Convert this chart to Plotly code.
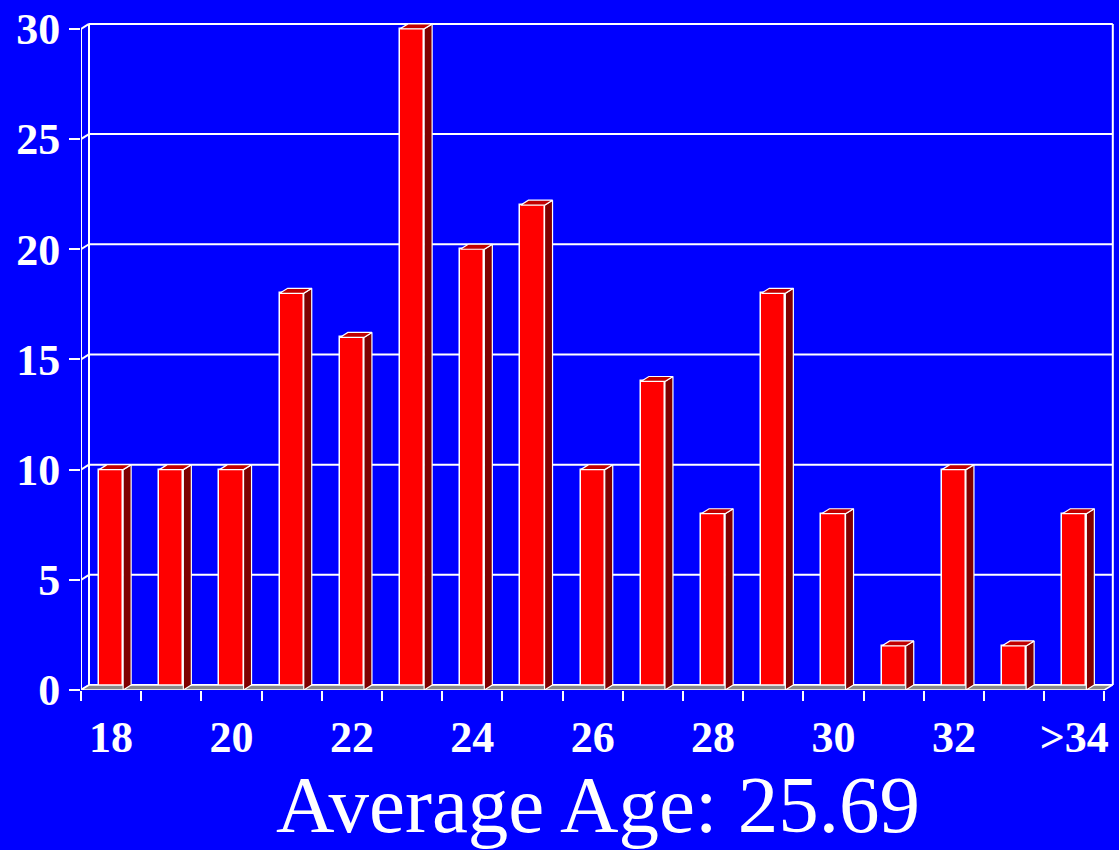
import plotly.graph_objects as go

# ---- data ----
categories = ["18", "19", "20", "21", "22", "23", "24", "25", "26", "27",
              "28", "29", "30", "31", "32", "33", ">34"]
counts = [10, 10, 10, 18, 16, 30, 20, 22, 10, 14, 8, 18, 8, 2, 10, 2, 8]
y_ticks = [0, 5, 10, 15, 20, 25, 30]
label_every = 2
title_text = "Average Age: 25.69"

# ---- geometry (pseudo-3D depth in data units) ----
n = len(categories)
idx = list(range(n))
px_per_x = 60.2
px_per_y = 22.17
ddx = 8 / px_per_x
ddy = 5 / px_per_y
bw = 0.4
x_lo = -0.5
x_hi = x_lo + (1114 - 81) / px_per_x
y_hi = (690 - 19) / px_per_y
ymax = max(y_ticks)

RED = "#FF0000"
SIDE = "#800000"
TOP = "#C00000"
BLUE = "#0000FF"
WHITE = "#FFFFFF"

fig = go.Figure()

# floor
fig.add_trace(go.Scatter(
    x=[x_lo, n - 0.5, n - 0.5 + ddx, x_lo + ddx, x_lo],
    y=[0, 0, ddy, ddy, 0],
    mode="lines", fill="toself", fillcolor="#888888",
    line=dict(color=WHITE, width=1.5), hoverinfo="skip", showlegend=False))

# front bars
fig.add_trace(go.Bar(
    x=idx, y=counts, width=bw,
    marker=dict(color=RED, line=dict(color=WHITE, width=1.5)),
    showlegend=False))

# side faces
sx, sy = [], []
for i, v in zip(idx, counts):
    r = i + bw / 2
    sx += [r, r + ddx, r + ddx, r, r, None]
    sy += [0, ddy, v + ddy, v, 0, None]
fig.add_trace(go.Scatter(x=sx, y=sy, mode="lines", fill="toself",
                         fillcolor=SIDE, line=dict(color=WHITE, width=1.2),
                         hoverinfo="skip", showlegend=False))
# top faces
tx, ty = [], []
for i, v in zip(idx, counts):
    l, r = i - bw / 2, i + bw / 2
    tx += [l, l + ddx, r + ddx, r, l, None]
    ty += [v, v + ddy, v + ddy, v, v, None]
fig.add_trace(go.Scatter(x=tx, y=ty, mode="lines", fill="toself",
                         fillcolor=TOP, line=dict(color=WHITE, width=1.2),
                         hoverinfo="skip", showlegend=False))

# walls / gridlines
shapes = []
line_style = dict(color=WHITE, width=2)
for v in y_ticks:
    shapes.append(dict(type="line", xref="x", yref="y", layer="below",
                       x0=x_lo + ddx, x1=x_hi - 0.02, y0=v + ddy, y1=v + ddy,
                       line=line_style))
    shapes.append(dict(type="line", xref="x", yref="y", layer="below",
                       x0=x_lo, x1=x_lo + ddx, y0=v, y1=v + ddy,
                       line=line_style))
shapes.append(dict(type="line", xref="x", yref="y", layer="below",
                   x0=x_lo + ddx, x1=x_lo + ddx, y0=ddy, y1=ymax + ddy,
                   line=line_style))
shapes.append(dict(type="line", xref="x", yref="y", layer="below",
                   x0=x_lo, x1=x_lo, y0=0, y1=ymax, line=line_style))
shapes.append(dict(type="line", xref="x", yref="y", layer="below",
                   x0=x_hi - 0.02, x1=x_hi - 0.02, y0=ddy, y1=ymax + ddy,
                   line=line_style))

boundaries = [i - 0.5 for i in range(n + 1)]
label_vals = idx[::label_every]
label_text = categories[::label_every]

tick_font = dict(family="Liberation Serif", size=44, color=WHITE, weight="bold")

fig.update_layout(
    width=1119, height=850,
    margin=dict(l=81, r=5, t=19, b=160),
    paper_bgcolor=BLUE, plot_bgcolor=BLUE,
    shapes=shapes,
    bargap=0,
    xaxis=dict(range=[x_lo, x_hi], showgrid=False, zeroline=False,
               showline=False, tickvals=label_vals, ticktext=label_text,
               ticks="", tickfont=tick_font, ticklabelstandoff=17,
               minor=dict(tickvals=boundaries, ticks="outside", ticklen=10,
                          tickwidth=2, tickcolor=WHITE, showgrid=False)),
    yaxis=dict(range=[0, y_hi], showgrid=False, zeroline=False,
               showline=False, tickvals=y_ticks, ticks="outside",
               ticklen=11, tickwidth=2, tickcolor=WHITE,
               tickfont=tick_font, ticklabelstandoff=0),
    annotations=[dict(text=title_text, xref="paper", yref="paper",
                      x=0.5, y=-0.102, xanchor="center", yanchor="top",
                      showarrow=False,
                      font=dict(family="Liberation Serif", size=81,
                                color=WHITE))],
)

fig.write_html(
    "out.html",
    config={"displayModeBar": False},
    post_script="document.body.style.margin='0';"
                "document.body.style.background='#0000FF';"
                "document.body.style.overflow='hidden';",
)
